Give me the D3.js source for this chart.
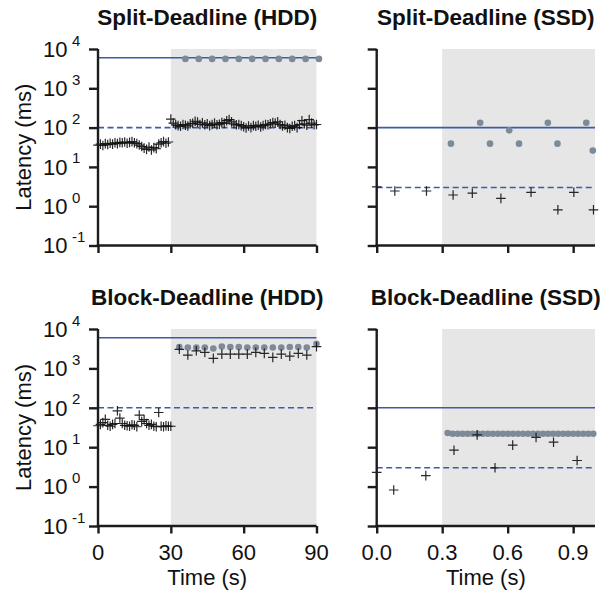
<!DOCTYPE html>
<html><head><meta charset="utf-8">
<script src="https://cdn.jsdelivr.net/npm/d3@7"></script>
<style>body{margin:0;background:#fff}svg text{font-family:"Liberation Sans",Arial,sans-serif;fill:#111}</style>
</head><body><svg id="c" width="608" height="596"></svg>
<script>
// ---------- data ----------
const titles = ["Split-Deadline (HDD)", "Split-Deadline (SSD)", "Block-Deadline (HDD)", "Block-Deadline (SSD)"];
const hddTicks = [0, 30, 60, 90];
const hddTickLabels = ["0", "30", "60", "90"];
const ssdTicks = [0, 0.3, 0.6, 0.9];
const ssdTickLabels = ["0.0", "0.3", "0.6", "0.9"];
const yTicks = [0.1, 1, 10, 100, 1000, 10000];
const yTickExp = ["-1", "0", "1", "2", "3", "4"];
const hddShadeStart = 30, ssdShadeStart = 0.3;
const xLabel = "Time (s)", yLabel = "Latency (ms)";

// deadlines (ms)
const hddDeadlines = { solid: 6000, dashed: 100 };
const ssdDeadlines = { solid: 100, dashed: 3 };

// Split-Deadline (HDD)
const splitHddPlusT = [0,1,2,3,4,5,6,7,8,9,10,11,12,13,14,15,16,17,18,19,20,21,22,23,24,25,26,27,28,29,
  30,31,32,33,34,35,36,37,38,39,40,41,42,43,44,45,46,47,48,49,50,51,52,53,54,55,56,57,58,59,
  60,61,62,63,64,65,66,67,68,69,70,71,72,73,74,75,76,77,78,79,80,81,82,83,84,85,86,87,88,89,90];
const splitHddPlusV = [36,38,35,39,37,40,38,41,39,42, 41,43,40,42,44,41,39,36,33,30, 28,32,27,31,29,38,41,44,40,43,
  165,130,118,112,108,120,115,110,125,128, 145,138,120,132,118,125,112,120,130,118,
  122,135,128,150,160,140,125,118,120,112, 105,98,110,100,112,108,115,104,112,120,
  118,125,135,130,140,120,110,115,100,95, 108,112,100,120,150,125,115,160,130,118, 120];
const splitHddDotT = [36, 41.5, 47, 52.5, 58, 63.5, 69, 74.5, 80, 85.5, 91];
const splitHddDotV = [5600, 5600, 5600, 5600, 5600, 5600, 5600, 5600, 5600, 5600, 5600];

// Split-Deadline (SSD)
const splitSsdPlusT = [0.0, 0.083, 0.228, 0.35, 0.438, 0.569, 0.707, 0.83, 0.903, 0.993];
const splitSsdPlusV = [3.1, 2.44, 2.44, 1.93, 2.14, 1.58, 2.26, 0.81, 2.26, 0.81];
const splitSsdDotT = [0.34, 0.474, 0.519, 0.607, 0.652, 0.784, 0.828, 0.96, 0.99];
const splitSsdDotV = [39, 133, 39, 85, 39, 133, 39, 133, 26];

// Block-Deadline (HDD)
const blockHddPlusT = [0,1,2,3,4,5,6,7,8,9,10,11,12,13,14,15,16,17,18,19,20,21,22,23,24,25,26,27,28,29,30,
  33.5,37,40.5,44,47.5,51,54.5,58,61.5,65,68.5,72,75.5,79,82.5,86,90];
const blockHddPlusV = [35,38,42,51,36,34,38,40,84,55, 40,36,35,34,37,36,33,65,45,50, 40,36,38,34,33,76,34,33,35,34,34,
  3050,2180,2800,2550,1800,2300,2300,2300,2300,2550,2400,1900,2300,2050,2400,2180,3550];
const blockHddDotT = [33.5,37,40.5,44,47.5,51,54.5,58,61.5,65,68.5,72,75.5,79,82.5,86,90];
const blockHddDotV = [3500,3400,3400,3400,3200,3600,3500,3500,3400,3400,3400,3400,3400,3500,3500,3400,4200];

// Block-Deadline (SSD)
const blockSsdPlusT = [0.0, 0.078, 0.225, 0.354, 0.46, 0.542, 0.623, 0.73, 0.81, 0.918];
const blockSsdPlusV = [2.3, 0.82, 1.9, 8.4, 20.6, 3.0, 11.3, 17.7, 13.4, 4.6];
const blockSsdDotT = [0.325,0.348,0.371,0.394,0.417,0.440,0.463,0.486,0.509,0.532,0.555,0.578,0.601,0.624,0.647,
  0.670,0.693,0.716,0.739,0.762,0.785,0.808,0.831,0.854,0.877,0.900,0.923,0.946,0.969,0.992];
const blockSsdDotV = [23,22,22,22,22,22,22,22,22,22,22,22,22,22,22,22,22,22,22,22,22,22,22,22,22,22,22,22,22,22];

// ---------- layout ----------
const svg = d3.select("#c");
const colX = [{ range: [98, 316.5], domain: [0, 90], ticks: hddTicks, labels: hddTickLabels, shade: hddShadeStart, dl: hddDeadlines },
              { range: [376.7, 595], domain: [0, 1.0], ticks: ssdTicks, labels: ssdTickLabels, shade: ssdShadeStart, dl: ssdDeadlines }];
const rowY = [[245.5, 49], [526, 329]];
const panels = [
  { r: 0, c: 0, plusT: splitHddPlusT, plusV: splitHddPlusV, dotT: splitHddDotT, dotV: splitHddDotV },
  { r: 0, c: 1, plusT: splitSsdPlusT, plusV: splitSsdPlusV, dotT: splitSsdDotT, dotV: splitSsdDotV },
  { r: 1, c: 0, plusT: blockHddPlusT, plusV: blockHddPlusV, dotT: blockHddDotT, dotV: blockHddDotV },
  { r: 1, c: 1, plusT: blockSsdPlusT, plusV: blockSsdPlusV, dotT: blockSsdDotT, dotV: blockSsdDotV }
];
const blue = "#3d5ba8", dotColor = "#7d8a98", shadeColor = "#e6e6e6", axisColor = "#1c1c1c";

panels.forEach((p, i) => {
  const cx = colX[p.c];
  const x = d3.scaleLinear().domain(cx.domain).range(cx.range);
  const y = d3.scaleLog().domain([0.1, 10000]).range(rowY[p.r]);
  const g = svg.append("g");
  const [x0, x1] = cx.range, [yb, yt] = rowY[p.r];

  // shaded region
  g.append("rect").attr("x", x(cx.shade)).attr("y", yt).attr("width", x1 - x(cx.shade)).attr("height", yb - yt)
    .attr("fill", shadeColor);

  // deadline lines
  g.append("line").attr("x1", x0).attr("x2", x1).attr("y1", y(cx.dl.solid)).attr("y2", y(cx.dl.solid))
    .attr("stroke", blue).attr("stroke-width", 1.6);
  g.append("line").attr("x1", x0).attr("x2", x1).attr("y1", y(cx.dl.dashed)).attr("y2", y(cx.dl.dashed))
    .attr("stroke", blue).attr("stroke-width", 1.6).attr("stroke-dasharray", "6,3.5");

  // dots
  g.selectAll("circle.d").data(p.dotT.map((t, k) => [t, p.dotV[k]])).join("circle")
    .attr("cx", d => x(d[0])).attr("cy", d => y(d[1])).attr("r", 3.3).attr("fill", dotColor);

  // plus markers
  g.selectAll("path.p").data(p.plusT.map((t, k) => [t, p.plusV[k]])).join("path")
    .attr("d", "M-4.8,0H4.8M0,-4.8V4.8")
    .attr("transform", d => `translate(${x(d[0])},${y(d[1])})`)
    .attr("stroke", "#111").attr("stroke-width", 1.2).attr("fill", "none").attr("stroke-opacity", 0.9);

  // axes
  const ya = g.append("g").attr("transform", `translate(${x0},0)`)
    .call(d3.axisLeft(y).tickValues(yTicks).tickFormat("").tickSize(9).tickSizeOuter(0));
  const xa = g.append("g").attr("transform", `translate(0,${yb})`)
    .call(d3.axisBottom(x).tickValues(cx.ticks).tickFormat("").tickSize(7.5).tickSizeOuter(0));
  [ya, xa].forEach(a => {
    a.select(".domain").attr("stroke", axisColor).attr("stroke-width", 2.4);
    a.selectAll(".tick line").attr("stroke", axisColor).attr("stroke-width", 2.4);
  });
  xa.select(".domain").attr("d", `M${x0 - 1.2},0H${x1}`);
  ya.select(".domain").attr("d", `M0,${yt}V${yb + 1.2}`);

  // title
  svg.append("text").attr("x", (x0 + x1) / 2).attr("y", yt - 24.5).attr("text-anchor", "middle")
    .attr("font-weight", "bold").attr("font-size", 22.5).text(titles[i]);

  if (p.c === 0) {
    yTicks.forEach((v, k) => {
      const t = svg.append("text").attr("y", y(v) + 7.8).attr("font-size", 22);
      t.append("tspan").attr("x", 67.5).attr("text-anchor", "end").text("10");
      svg.append("text").attr("x", 72).attr("y", y(v) - 3.5).attr("font-size", 15).text(yTickExp[k]);
    });
    svg.append("text").attr("transform", `translate(31,${(yt + yb) / 2}) rotate(-90)`)
      .attr("text-anchor", "middle").attr("font-size", 22).text(yLabel);
  }
  if (p.r === 1) {
    cx.ticks.forEach((v, k) => {
      svg.append("text").attr("x", x(v)).attr("y", yb + 33.5).attr("text-anchor", "middle")
        .attr("font-size", 22).text(cx.labels[k]);
    });
    svg.append("text").attr("x", (x0 + x1) / 2).attr("y", yb + 59).attr("text-anchor", "middle")
      .attr("font-size", 22).text(xLabel);
  }
});
</script></body></html>
